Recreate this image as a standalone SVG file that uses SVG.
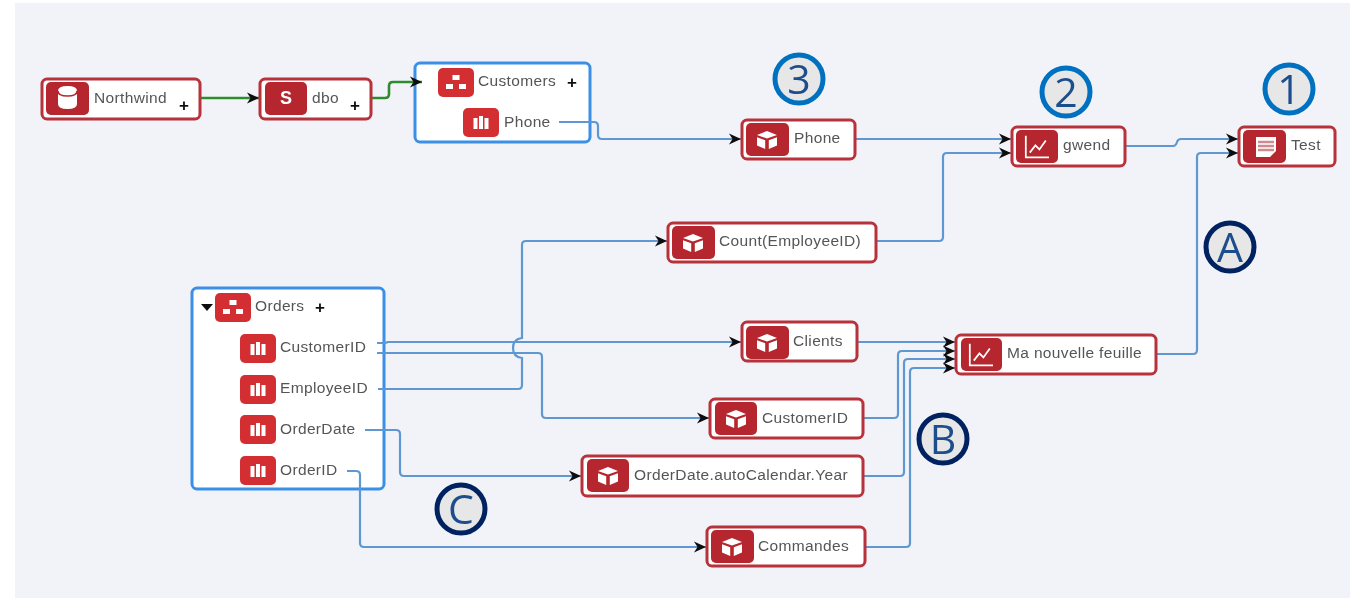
<svg xmlns="http://www.w3.org/2000/svg" xmlns:xlink="http://www.w3.org/1999/xlink" width="1350" height="598" viewBox="0 0 1350 598">
<style>
.n{fill:#fff;stroke:#b8323a;stroke-width:3}
.i{fill:#b5272d}
.f{fill:#d32f33}
.c{fill:#fff;stroke:#3a8fe6;stroke-width:3}
.t{font-family:"Liberation Sans",Arial,sans-serif;font-size:15.5px;letter-spacing:.35px;fill:#555}
.p{font-family:"Liberation Sans",Arial,sans-serif;font-size:17px;font-weight:bold;fill:#111}
.e{fill:none;stroke:#5f98d0;stroke-width:2.2}
.g{fill:none;stroke:#2e8b2e;stroke-width:2.6}
.bn{fill:#e7e7e7;stroke:#0070c0;stroke-width:5}
.bl{fill:#e7e7e7;stroke:#002060;stroke-width:5}
.bt{font-family:"Open Sans","Noto Sans",sans-serif;font-weight:400;font-size:41px;fill:#1f4e8c;text-anchor:middle}
</style>
<defs>
<filter id="soft" x="-2%" y="-2%" width="104%" height="104%"><feGaussianBlur stdDeviation="0.45"/></filter>
<marker id="a" markerUnits="userSpaceOnUse" markerWidth="14" markerHeight="14" refX="12" refY="7" orient="auto"><path d="M0 1.500 L12 7 L0 12.500 L3.500 7Z" fill="#111"/></marker>
<g id="cube"><path d="M0 -9 L10 -5 L0 -1.500 L-10 -5Z M-10 -2.800 L-1.800 0.300 L-1.800 9 L-10 5.500Z M10 -2.800 L1.800 0.300 L1.800 9 L10 5.500Z" fill="#fff"/></g>
<g id="bars"><path d="M-7.500 -5 h4 v11 h-4Z M-2 -7 h4 v13 h-4Z M3.500 -5 h4 v11 h-4Z" fill="#fff"/></g>
<g id="tree"><path d="M-3.500 -8 h7 v5 h-7Z M-10 1 h7 v5 h-7Z M3 1 h7 v5 h-7Z" fill="#fff"/></g>
<g id="chart"><path d="M-14 -14 V13 H15 M-9 7 L-2 -2 L3 3 L11 -8" fill="none" stroke="#fff" stroke-width="2.200"/></g>
</defs>
<rect width="1350" height="598" fill="#fff"/>
<rect x="15" y="3" width="1335" height="595" fill="#f1f3f9"/>
<g filter="url(#soft)">
<g id="node-customers"><rect class="c" x="415" y="63" width="175" height="79" rx="5"/>
<rect class="f" x="438" y="68" width="36" height="29" rx="5"/><use href="#tree" x="456" y="83"/>
<text class="t" x="478" y="86">Customers</text><text class="p" x="567" y="88">+</text></g>
<g id="node-orders"><rect class="c" x="192" y="288" width="192" height="201" rx="5"/>
<path d="M201 304 h12 l-6 7Z" fill="#111"/>
<rect class="f" x="215" y="293" width="36" height="29" rx="5"/><use href="#tree" x="233" y="308"/>
<text class="t" x="255" y="311">Orders</text><text class="p" x="315" y="313">+</text></g>
<g id="connectors">
<path class="g" d="M200 98 H259" marker-end="url(#a)"/>
<path class="g" d="M372 98 H385 Q389 98 389 94 V86 Q389 82 393 82 H422" marker-end="url(#a)"/>
<path class="e" d="M559 122 H594 Q598 122 598 126 V135 Q598 139 602 139 H741" marker-end="url(#a)"/>
<path class="e" d="M856 139 H1011" marker-end="url(#a)"/>
<path class="e" d="M877 241 H939 Q943 241 943 237 V157 Q943 153 947 153 H1011" marker-end="url(#a)"/>
<path class="e" d="M1126 146 H1173 Q1176 146 1177 142 Q1178 139 1181 139 H1238" marker-end="url(#a)"/>
<path class="e" d="M1157 354 H1193 Q1197 354 1197 350 V157 Q1197 153 1201 153 H1238" marker-end="url(#a)"/>
<path class="e" d="M377 343 H384 Q386 343 388 342 H741" marker-end="url(#a)"/>
<path class="e" d="M377 353 H538 Q542 353 542 357 V414 Q542 418 546 418 H709" marker-end="url(#a)"/>
<path class="e" d="M378 389 H518 Q522 389 522 385 V358 Q513 357 513 348 Q513 339 522 338 V245 Q522 241 526 241 H667" marker-end="url(#a)"/>
<path class="e" d="M365 430 H396 Q400 430 400 434 V472 Q400 476 404 476 H581" marker-end="url(#a)"/>
<path class="e" d="M347 471 H356 Q360 471 360 475 V543 Q360 547 364 547 H706" marker-end="url(#a)"/>
<path class="e" d="M858 342 H955" marker-end="url(#a)"/>
<path class="e" d="M864 418 H894 Q898 418 898 414 V355 Q898 351 902 351 H955" marker-end="url(#a)"/>
<path class="e" d="M864 476 H900 Q904 476 904 472 V363 Q904 359 908 359 H955" marker-end="url(#a)"/>
<path class="e" d="M866 547 H906 Q910 547 910 543 V372 Q910 368 914 368 H955" marker-end="url(#a)"/>
</g>
<g id="node-northwind"><rect class="n" x="42" y="79" width="158" height="40" rx="5"/><rect class="i" x="46" y="82" width="43" height="33" rx="5"/>
<path d="M58 91 Q58 86 67.500 86 Q77 86 77 91 V104 Q77 109 67.500 109 Q58 109 58 104Z" fill="#fff"/><path d="M58 91 Q58 96 67.500 96 Q77 96 77 91" fill="none" stroke="#b5272d" stroke-width="1.500"/>
<text class="t" x="94" y="103">Northwind</text><text class="p" x="179" y="111">+</text></g>
<g id="node-dbo"><rect class="n" x="260" y="79" width="111" height="40" rx="5"/><rect class="i" x="265" y="82" width="42" height="33" rx="5"/>
<text x="286" y="104" font-family="Liberation Sans,sans-serif" font-size="18" font-weight="bold" fill="#fff" text-anchor="middle">S</text>
<text class="t" x="312" y="103">dbo</text><text class="p" x="350" y="111">+</text></g>
<g id="node-customers-phone"><rect class="f" x="463" y="108" width="36" height="29" rx="5"/><use href="#bars" x="481" y="123"/><text class="t" x="504" y="127">Phone</text></g>
<g id="node-orders-customerid"><rect class="f" x="240" y="334" width="36" height="29" rx="5"/><use href="#bars" x="258" y="349"/><text class="t" x="280" y="352">CustomerID</text></g>
<g id="node-orders-employeeid"><rect class="f" x="240" y="375" width="36" height="29" rx="5"/><use href="#bars" x="258" y="390"/><text class="t" x="280" y="393">EmployeeID</text></g>
<g id="node-orders-orderdate"><rect class="f" x="240" y="415" width="36" height="29" rx="5"/><use href="#bars" x="258" y="430"/><text class="t" x="280" y="434">OrderDate</text></g>
<g id="node-orders-orderid"><rect class="f" x="240" y="456" width="36" height="29" rx="5"/><use href="#bars" x="258" y="471"/><text class="t" x="280" y="475">OrderID</text></g>
<g id="node-phone"><rect class="n" x="742" y="120" width="113" height="39" rx="5"/><rect class="i" x="746" y="123" width="43" height="33" rx="5"/><use href="#cube" x="767" y="140"/><text class="t" x="794" y="143">Phone</text></g>
<g id="node-gwend"><rect class="n" x="1012" y="127" width="113" height="39" rx="5"/><rect class="i" x="1016" y="130" width="42" height="33" rx="5"/><use href="#chart" transform="translate(1037 147) scale(.8)"/><text class="t" x="1063" y="150">gwend</text></g>
<g id="node-test"><rect class="n" x="1239" y="127" width="96" height="39" rx="5"/><rect class="i" x="1243" y="130" width="43" height="33" rx="5"/>
<path d="M1256 137 H1276 V151 L1270 157 H1256Z" fill="#fff"/><path d="M1258 142 H1274 M1258 146 H1274 M1258 150 H1274" stroke="#d08a8e" stroke-width="2.500"/>
<text class="t" x="1291" y="150">Test</text></g>
<g id="node-count"><rect class="n" x="668" y="223" width="208" height="39" rx="5"/><rect class="i" x="672" y="226" width="43" height="33" rx="5"/><use href="#cube" x="693" y="243"/><text class="t" x="719" y="246">Count(EmployeeID)</text></g>
<g id="node-clients"><rect class="n" x="742" y="322" width="115" height="39" rx="5"/><rect class="i" x="746" y="326" width="43" height="33" rx="5"/><use href="#cube" x="767" y="343"/><text class="t" x="793" y="346">Clients</text></g>
<g id="node-feuille"><rect class="n" x="956" y="335" width="200" height="39" rx="5"/><rect class="i" x="961" y="338" width="41" height="33" rx="5"/><use href="#chart" transform="translate(981 355) scale(.8)"/><text class="t" x="1007" y="358">Ma nouvelle feuille</text></g>
<g id="node-customerid"><rect class="n" x="710" y="399" width="153" height="39" rx="5"/><rect class="i" x="715" y="402" width="42" height="33" rx="5"/><use href="#cube" x="736" y="419"/><text class="t" x="762" y="423">CustomerID</text></g>
<g id="node-orderdate"><rect class="n" x="582" y="456" width="281" height="40" rx="5"/><rect class="i" x="587" y="459" width="42" height="33" rx="5"/><use href="#cube" x="608" y="476"/><text class="t" x="634" y="480">OrderDate.autoCalendar.Year</text></g>
<g id="node-commandes"><rect class="n" x="707" y="527" width="158" height="39" rx="5"/><rect class="i" x="711" y="530" width="43" height="33" rx="5"/><use href="#cube" x="732" y="547"/><text class="t" x="758" y="551">Commandes</text></g>
<g id="badge-3"><ellipse class="bn" cx="799" cy="79" rx="24" ry="24"/><text class="bt" x="799" y="94">3</text></g>
<g id="badge-2"><ellipse class="bn" cx="1066" cy="92" rx="24" ry="24"/><text class="bt" x="1066" y="107">2</text></g>
<g id="badge-1"><ellipse class="bn" cx="1289" cy="89" rx="24" ry="24"/><text class="bt" x="1289" y="104">1</text></g>
<g id="badge-a"><ellipse class="bl" cx="1230" cy="247" rx="24" ry="24"/><text class="bt" x="1230" y="262">A</text></g>
<g id="badge-b"><ellipse class="bl" cx="943" cy="439" rx="24" ry="24"/><text class="bt" x="943" y="454">B</text></g>
<g id="badge-c"><ellipse class="bl" cx="461" cy="509" rx="24" ry="24"/><text class="bt" x="461" y="524">C</text></g>
</g>
</svg>
